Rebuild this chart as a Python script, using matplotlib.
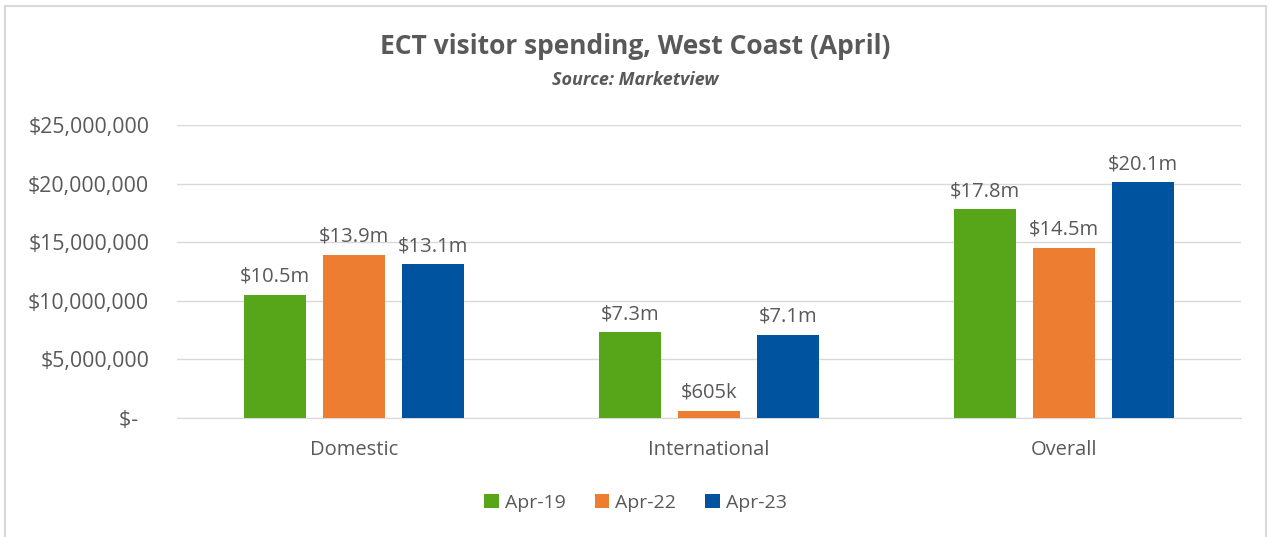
import numpy as np
import matplotlib.pyplot as plt
from matplotlib.patches import Rectangle

categories = ["Domestic", "International", "Overall"]
series = ["Apr-19", "Apr-22", "Apr-23"]
apr19 = [10.5e6, 7.3e6, 17.8e6]
apr22 = [13.9e6, 0.605e6, 14.5e6]
apr23 = [13.1e6, 7.1e6, 20.1e6]
labels19 = ["$10.5m", "$7.3m", "$17.8m"]
labels22 = ["$13.9m", "$605k", "$14.5m"]
labels23 = ["$13.1m", "$7.1m", "$20.1m"]
colors = ["#57a519", "#ed7d31", "#00539f"]

plt.rcParams['font.family'] = ['Open Sans', 'DejaVu Sans']
txt = "#595959"

fig = plt.figure(figsize=(12.71, 5.37), dpi=100)
ax = fig.add_axes([177 / 1271, 1 - 418 / 537, (1241 - 177) / 1271, (418 - 125) / 537])

x = np.arange(len(categories))
w = 0.175
off = 0.223
for i, (vals, labs) in enumerate(zip([apr19, apr22, apr23], [labels19, labels22, labels23])):
    bars = ax.bar(x + (i - 1) * off, vals, w, color=colors[i], label=series[i], zorder=3)
    for b, lab in zip(bars, labs):
        ax.annotate(lab, (b.get_x() + b.get_width() / 2, b.get_height()),
                    xytext=(0, 6), textcoords="offset points",
                    ha="center", va="bottom", fontsize=14.5, color=txt)

ax.set_xlim(-0.5, 2.5)
ax.set_ylim(0, 25e6)
ax.set_yticks(np.arange(0, 25e6 + 1, 5e6))
ax.set_yticklabels(["$-  "] + ["${:,.0f}".format(v) for v in np.arange(5e6, 25e6 + 1, 5e6)])
ax.set_xticks(x)
ax.set_xticklabels(categories)
ax.grid(axis="y", color="#d9d9d9", linewidth=1, zorder=0)
for s in ["top", "right", "left"]:
    ax.spines[s].set_visible(False)
ax.spines["bottom"].set_color("#d9d9d9")
ax.tick_params(axis="both", length=0, labelsize=14.5, labelcolor=txt)
ax.tick_params(axis="y", labelsize=15.3, pad=20)
ax.tick_params(axis="x", pad=16)

fig.text(0.5, 1 - 47 / 537, "ECT visitor spending, West Coast (April)", ha="center", va="center",
         fontsize=19, fontweight="bold", color=txt)
fig.text(0.5, 1 - 80 / 537, "Source: Marketview", ha="center", va="center",
         fontsize=13, fontweight="bold", style="italic", color=txt)

fig.legend(loc="center", bbox_to_anchor=(0.5, 1 - 503 / 537), ncol=3, frameon=False,
           fontsize=14, labelcolor=txt, handlelength=0.75, handleheight=0.75,
           handletextpad=0.3, columnspacing=1.5)

fig.patches.append(Rectangle((5 / 1271, -0.1), 1261 / 1271, 1.1 - 6 / 537, transform=fig.transFigure,
                             fill=False, edgecolor="#d9d9d9", linewidth=1.5))

fig.savefig("out.png", dpi=100)
